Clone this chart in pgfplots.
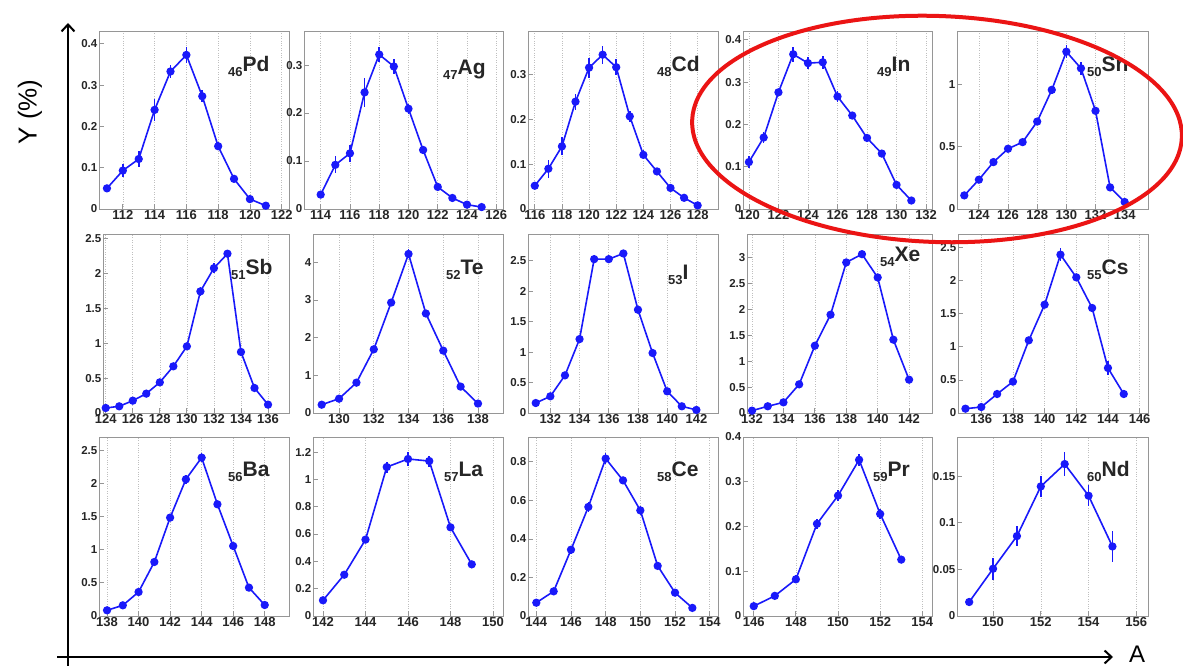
\documentclass[border=0pt]{standalone}
\usepackage{fontspec}
\setmainfont{Liberation Sans}
\usepackage{pgfplots}
\pgfplotsset{compat=1.18}
\usetikzlibrary{arrows.meta}
\definecolor{pblue}{RGB}{25,25,250}
\definecolor{fr}{RGB}{150,150,150}
\definecolor{ered}{RGB}{235,20,20}
\pgfplotsset{
 panel/.style={
  scale only axis, anchor=south west, ymin=0,
  axis line style={fr, line width=0.9pt},
  xmajorgrids, grid style={dotted, gray!50, line width=0.6pt},
  xtick pos=bottom, ytick pos=left, tick align=inside,
  major tick length=5pt, tick style={fr, line width=0.8pt},
  minor tick num=0,
  scaled y ticks=false, scaled x ticks=false,
  /pgf/number format/.cd, fixed, precision=2, assume math mode=true, 1000 sep={}, /pgfplots/.cd,
  xticklabel style={font=\bfseries\fontsize{13}{13}\selectfont, text=black!85, inner sep=1.5pt},
  yticklabel style={font=\bfseries\fontsize{11.5}{11.5}\selectfont, text=black!85, inner sep=1.5pt},
 },
 pline/.style={pblue, line width=1.6pt, mark=*, mark size=3.3pt, mark options={solid},
  error bars/.cd, y dir=both, y explicit, error mark=none, error bar style={line width=1.6pt, pblue}},
}
\newcommand{\elab}[4]{\node[anchor=base west, inner sep=0pt, text=black!85] at (#1,#2) {\bfseries\fontsize{13}{13}\selectfont\raisebox{-5pt}{#3}\fontsize{21}{21}\selectfont #4};}
\begin{document}
\begin{tikzpicture}[x=1pt,y=1pt]
\useasboundingbox (0,0) rectangle (1183,666);
\fill[white] (0,0) rectangle (1183,666);
% ---------- Row 1 ----------
\begin{axis}[panel, at={(99pt,457pt)}, width=190pt, height=178pt, xmin=110.5, xmax=122.46, ymax=0.431,
 xtick={112,114,...,122}, ytick={0,0.1,0.2,0.3,0.4}]
\addplot[pline] coordinates {(111,0.050)+-(0,0.005) (112,0.093)+-(0,0.015) (113,0.121)+-(0,0.02) (114,0.240)+-(0,0.027) (115,0.333)+-(0,0.016) (116,0.373)+-(0,0.02) (117,0.273)+-(0,0.015) (118,0.152)+-(0,0.01) (119,0.073)+-(0,0.008) (120,0.024)+-(0,0.005) (121,0.008)+-(0,0.003)};
\end{axis}
\begin{axis}[panel, at={(304pt,457pt)}, width=199pt, height=178pt, xmin=112.86, xmax=126.46, ymax=0.371,
 xtick={114,116,...,126}, ytick={0,0.1,0.2,0.3}]
\addplot[pline] coordinates {(114,0.030)+-(0,0.004) (115,0.092)+-(0,0.018) (116,0.116)+-(0,0.018) (117,0.243)+-(0,0.03) (118,0.322)+-(0,0.015) (119,0.297)+-(0,0.015) (120,0.209)+-(0,0.01) (121,0.123)+-(0,0.007) (122,0.046)+-(0,0.007) (123,0.023)+-(0,0.003) (124,0.009)+-(0,0.002) (125,0.004)+-(0,0.002)};
\end{axis}
\begin{axis}[panel, at={(528pt,457pt)}, width=190pt, height=178pt, xmin=115.5, xmax=129.5, ymax=0.398,
 xtick={116,118,...,128}, ytick={0,0.1,0.2,0.3}]
\addplot[pline] coordinates {(116,0.052)+-(0,0.008) (117,0.090)+-(0,0.02) (118,0.140)+-(0,0.02) (119,0.240)+-(0,0.018) (120,0.316)+-(0,0.022) (121,0.345)+-(0,0.02) (122,0.317)+-(0,0.018) (123,0.207)+-(0,0.012) (124,0.121)+-(0,0.01) (125,0.084)+-(0,0.007) (126,0.047)+-(0,0.005) (127,0.025)+-(0,0.003) (128,0.008)+-(0,0.002)};
\end{axis}
\begin{axis}[panel, at={(743pt,457pt)}, width=189pt, height=178pt, xmin=119.6, xmax=132.4, ymax=0.421,
 xtick={120,122,...,132}, ytick={0,0.1,0.2,0.3,0.4}]
\addplot[pline] coordinates {(120,0.111)+-(0,0.015) (121,0.169)+-(0,0.013) (122,0.276)+-(0,0.008) (123,0.366)+-(0,0.018) (124,0.345)+-(0,0.015) (125,0.347)+-(0,0.015) (126,0.266)+-(0,0.012) (127,0.221)+-(0,0.006) (128,0.168)+-(0,0.006) (129,0.131)+-(0,0.006) (130,0.057)+-(0,0.005) (131,0.020)+-(0,0.003)};
\end{axis}
\begin{axis}[panel, at={(957pt,457pt)}, width=191pt, height=178pt, xmin=122.5, xmax=135.6, ymax=1.427,
 xtick={124,126,...,134}, ytick={0,0.5,1}]
\addplot[pline] coordinates {(123,0.109)+-(0,0.01) (124,0.235)+-(0,0.01) (125,0.376)+-(0,0.015) (126,0.483)+-(0,0.015) (127,0.536)+-(0,0.015) (128,0.701)+-(0,0.02) (129,0.955)+-(0,0.03) (130,1.261)+-(0,0.05) (131,1.128)+-(0,0.05) (132,0.787)+-(0,0.03) (133,0.173)+-(0,0.01) (134,0.056)+-(0,0.005)};
\end{axis}
% ---------- Row 2 ----------
\begin{axis}[panel, at={(103pt,253pt)}, width=186pt, height=179pt, xmin=123.8, xmax=137.55, ymax=2.57,
 xtick={124,126,...,136}, ytick={0,0.5,1,1.5,2,2.5}]
\addplot[pline] coordinates {(124,0.072)+-(0,0.01) (125,0.096)+-(0,0.01) (126,0.177)+-(0,0.015) (127,0.278)+-(0,0.02) (128,0.440)+-(0,0.02) (129,0.670)+-(0,0.03) (130,0.957)+-(0,0.04) (131,1.746)+-(0,0.07) (132,2.080)+-(0,0.07) (133,2.287)+-(0,0.04) (134,0.876)+-(0,0.03) (135,0.359)+-(0,0.02) (136,0.120)+-(0,0.01)};
\end{axis}
\begin{axis}[panel, at={(313pt,253pt)}, width=190pt, height=179pt, xmin=128.5, xmax=139.44, ymax=4.75,
 xtick={130,132,...,138}, ytick={0,1,2,3,4}]
\addplot[pline] coordinates {(129,0.22)+-(0,0.02) (130,0.38)+-(0,0.03) (131,0.805)+-(0,0.04) (132,1.69)+-(0,0.06) (133,2.93)+-(0,0.08) (134,4.22)+-(0,0.12) (135,2.64)+-(0,0.08) (136,1.655)+-(0,0.05) (137,0.70)+-(0,0.03) (138,0.25)+-(0,0.02)};
\end{axis}
\begin{axis}[panel, at={(528pt,253pt)}, width=190pt, height=179pt, xmin=130.47, xmax=143.48, ymax=2.94,
 xtick={132,134,...,142}, ytick={0,0.5,1,1.5,2,2.5}]
\addplot[pline] coordinates {(131,0.164)+-(0,0.01) (132,0.274)+-(0,0.015) (133,0.618)+-(0,0.02) (134,1.214)+-(0,0.03) (135,2.527)+-(0,0.04) (136,2.527)+-(0,0.04) (137,2.62)+-(0,0.04) (138,1.696)+-(0,0.03) (139,0.985)+-(0,0.03) (140,0.356)+-(0,0.02) (141,0.11)+-(0,0.01) (142,0.05)+-(0,0.005)};
\end{axis}
\begin{axis}[panel, at={(747pt,253pt)}, width=185pt, height=179pt, xmin=131.68, xmax=143.46, ymax=3.46,
 xtick={132,134,...,142}, ytick={0,0.5,1,1.5,2,2.5,3}]
\addplot[pline] coordinates {(132,0.045)+-(0,0.005) (133,0.13)+-(0,0.01) (134,0.206)+-(0,0.015) (135,0.554)+-(0,0.02) (136,1.30)+-(0,0.03) (137,1.90)+-(0,0.04) (138,2.91)+-(0,0.05) (139,3.07)+-(0,0.07) (140,2.62)+-(0,0.05) (141,1.417)+-(0,0.04) (142,0.644)+-(0,0.03)};
\end{axis}
\begin{axis}[panel, at={(958pt,253pt)}, width=190pt, height=179pt, xmin=134.53, xmax=146.53, ymax=2.705,
 xtick={136,138,...,146}, ytick={0,0.5,1,1.5,2,2.5}]
\addplot[pline] coordinates {(135,0.065)+-(0,0.01) (136,0.09)+-(0,0.01) (137,0.287)+-(0,0.02) (138,0.474)+-(0,0.03) (139,1.098)+-(0,0.04) (140,1.637)+-(0,0.05) (141,2.393)+-(0,0.1) (142,2.05)+-(0,0.05) (143,1.587)+-(0,0.05) (144,0.68)+-(0,0.1) (145,0.287)+-(0,0.02)};
\end{axis}
% ---------- Row 3 ----------
\begin{axis}[panel, at={(99pt,50pt)}, width=190pt, height=179pt, xmin=137.49, xmax=149.54, ymax=2.70,
 xtick={138,140,...,148}, ytick={0,0.5,1,1.5,2,2.5}]
\addplot[pline] coordinates {(138,0.086)+-(0,0.01) (139,0.161)+-(0,0.015) (140,0.362)+-(0,0.02) (141,0.815)+-(0,0.03) (142,1.484)+-(0,0.04) (143,2.062)+-(0,0.07) (144,2.389)+-(0,0.07) (145,1.685)+-(0,0.04) (146,1.056)+-(0,0.04) (147,0.428)+-(0,0.03) (148,0.166)+-(0,0.02)};
\end{axis}
\begin{axis}[panel, at={(313pt,50pt)}, width=190pt, height=179pt, xmin=141.53, xmax=150.47, ymax=1.31,
 xtick={142,144,...,150}, ytick={0,0.2,0.4,0.6,0.8,1,1.2}]
\addplot[pline] coordinates {(142,0.115)+-(0,0.01) (143,0.302)+-(0,0.015) (144,0.559)+-(0,0.02) (145,1.09)+-(0,0.04) (146,1.149)+-(0,0.05) (147,1.134)+-(0,0.04) (148,0.649)+-(0,0.02) (149,0.378)+-(0,0.01)};
\end{axis}
\begin{axis}[panel, at={(528pt,50pt)}, width=190pt, height=179pt, xmin=143.52, xmax=154.48, ymax=0.929,
 xtick={144,146,...,154}, ytick={0,0.2,0.4,0.6,0.8}]
\addplot[pline] coordinates {(144,0.069)+-(0,0.01) (145,0.128)+-(0,0.01) (146,0.344)+-(0,0.02) (147,0.566)+-(0,0.025) (148,0.817)+-(0,0.03) (149,0.704)+-(0,0.02) (150,0.548)+-(0,0.025) (151,0.26)+-(0,0.012) (152,0.121)+-(0,0.01) (153,0.042)+-(0,0.005)};
\end{axis}
\begin{axis}[panel, at={(743pt,50pt)}, width=189pt, height=179pt, xmin=145.49, xmax=154.46, ymax=0.4,
 xtick={146,148,...,154}, ytick={0,0.1,0.2,0.3,0.4}]
\addplot[pline] coordinates {(146,0.022)+-(0,0.003) (147,0.045)+-(0,0.007) (148,0.082)+-(0,0.009) (149,0.206)+-(0,0.011) (150,0.269)+-(0,0.013) (151,0.349)+-(0,0.014) (152,0.228)+-(0,0.011) (153,0.126)+-(0,0.004)};
\end{axis}
\begin{axis}[panel, at={(957pt,50pt)}, width=191pt, height=179pt, xmin=148.49, xmax=156.49, ymax=0.192,
 xtick={150,152,...,156}, ytick={0,0.05,0.1,0.15}]
\addplot[pline] coordinates {(149,0.015)+-(0,0.002) (150,0.0507)+-(0,0.012) (151,0.0857)+-(0,0.011) (152,0.139)+-(0,0.011) (153,0.163)+-(0,0.013) (154,0.129)+-(0,0.011) (155,0.0746)+-(0,0.017)};
\end{axis}
% ---------- element labels ----------
\elab{228}{594}{46}{Pd}
\elab{443}{591}{47}{Ag}
\elab{657}{594}{48}{Cd}
\elab{877}{594}{49}{In}
\elab{1087}{594}{50}{Sn}
\elab{231}{391}{51}{Sb}
\elab{446}{391}{52}{Te}
\elab{668}{386}{53}{I}
\elab{880}{404}{54}{Xe}
\elab{1087}{391}{55}{Cs}
\elab{228}{189}{56}{Ba}
\elab{444}{189}{57}{La}
\elab{657}{189}{58}{Ce}
\elab{873}{189}{59}{Pr}
\elab{1087}{189}{60}{Nd}
% ---------- big axes ----------
\draw[line width=2.2pt, -{Straight Barb[length=7pt,width=13pt,line width=2pt]}] (68,0) -- (68,643);
\draw[line width=2.2pt, -{Straight Barb[length=7pt,width=13pt,line width=2pt]}] (57,9) -- (1113,9);
\node[rotate=90, font=\fontsize{26}{26}\selectfont] at (30,554) {Y (\%)};
\node[anchor=base, inner sep=0pt, font=\fontsize{24}{24}\selectfont] at (1137,3) {A};
% ---------- red ellipse ----------
\draw[ered, line width=4pt, rotate around={-2:(937,537)}] (937,537) ellipse [x radius=245, y radius=113];
\end{tikzpicture}
\end{document}
